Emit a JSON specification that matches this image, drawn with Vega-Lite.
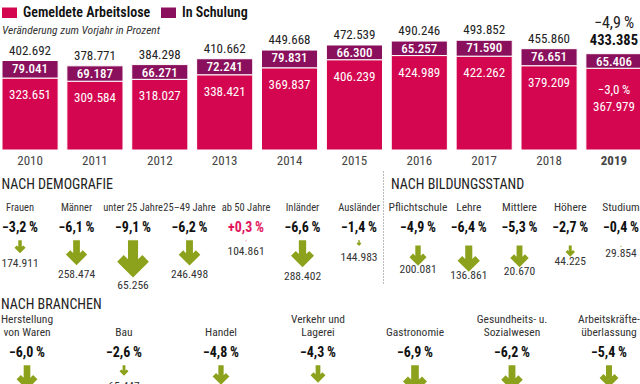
{
  "$schema": "https://vega.github.io/schema/vega-lite/v6.json",
  "padding": 0,
  "background": "white",
  "spacing": 3,
  "config": {
    "font": "Roboto Condensed, Noto Sans Condensed, Liberation Sans Narrow, DejaVu Sans Condensed, sans-serif",
    "view": {"stroke": null},
    "locale": {"number": {"decimal": ",", "thousands": ".", "grouping": [3], "currency": ["", " €"], "percent": "\u2009%", "minus": "\u2212"}}
  },
  "vconcat": [
    {
      "width": 640,
      "height": 150,
      "data": {"values": [
        {"Jahr": "2010", "Gemeldete Arbeitslose": 323651, "In Schulung": 79041, "Gesamt": 402692},
        {"Jahr": "2011", "Gemeldete Arbeitslose": 309584, "In Schulung": 69187, "Gesamt": 378771},
        {"Jahr": "2012", "Gemeldete Arbeitslose": 318027, "In Schulung": 66271, "Gesamt": 384298},
        {"Jahr": "2013", "Gemeldete Arbeitslose": 338421, "In Schulung": 72241, "Gesamt": 410662},
        {"Jahr": "2014", "Gemeldete Arbeitslose": 369837, "In Schulung": 79831, "Gesamt": 449668},
        {"Jahr": "2015", "Gemeldete Arbeitslose": 406239, "In Schulung": 66300, "Gesamt": 472539},
        {"Jahr": "2016", "Gemeldete Arbeitslose": 424989, "In Schulung": 65257, "Gesamt": 490246},
        {"Jahr": "2017", "Gemeldete Arbeitslose": 422262, "In Schulung": 71590, "Gesamt": 493852},
        {"Jahr": "2018", "Gemeldete Arbeitslose": 379209, "In Schulung": 76651, "Gesamt": 455860},
        {"Jahr": "2019", "Gemeldete Arbeitslose": 367979, "In Schulung": 65406, "Gesamt": 433385, "VeraenderungGesamt": -0.049, "VeraenderungArbeitslose": -0.030}
      ]},
      "encoding": {
        "x": {"field": "Jahr", "type": "ordinal",
          "scale": {"type": "band", "paddingInner": 0.135, "paddingOuter": 0},
          "axis": {"title": null, "domain": false, "ticks": false, "tickSize": 0, "labelPadding": 4, "labelFontSize": 13, "labelColor": "#444", "labelAngle": 0,
            "labelFontWeight": {"condition": {"test": "datum.value == '2019'", "value": "bold"}, "value": "normal"}}}
      },
      "layer": [
        {
          "transform": [{"fold": ["Gemeldete Arbeitslose", "In Schulung"], "as": ["Gruppe", "Anzahl"]}],
          "mark": {"type": "bar", "stroke": "white", "strokeWidth": 1},
          "encoding": {
            "y": {"field": "Anzahl", "type": "quantitative", "stack": "zero", "scale": {"domain": [0, 675000], "nice": false}, "axis": null},
            "order": {"field": "Gruppe", "sort": "ascending"},
            "color": {"field": "Gruppe", "type": "nominal",
              "scale": {"domain": ["Gemeldete Arbeitslose", "In Schulung"], "range": ["#d4064f", "#8a0f5c"]},
              "legend": {"orient": "none", "legendX": 0, "legendY": 5, "direction": "horizontal",
                "title": "Veränderung zum Vorjahr in Prozent", "titleOrient": "bottom", "titleAnchor": "start",
                "titleFontStyle": "italic", "titleFontWeight": "normal", "titleFontSize": 11.5, "titleColor": "#333", "titlePadding": 5, "titleLimit": 300,
                "symbolType": "M-1,-0.7L1,-0.7L1,0.7L-1,0.7Z", "symbolSize": 225, "symbolStrokeWidth": 0, "symbolOpacity": 1,
                "labelFontSize": 14, "labelFontWeight": 600, "labelColor": "#111", "labelOffset": 6, "labelLimit": 300, "columnPadding": 10, "padding": 0}}
          }
        },
        {
          "mark": {"type": "text", "color": "white", "fontSize": 13, "fontWeight": 500, "baseline": "middle", "dy": 8},
          "encoding": {
            "y": {"field": "Gesamt", "type": "quantitative", "scale": {"domain": [0, 675000], "nice": false}, "axis": null},
            "text": {"field": "In Schulung", "type": "quantitative", "format": ",.0f"}
          }
        },
        {
          "transform": [{"filter": "datum.Jahr != '2019'"}],
          "mark": {"type": "text", "color": "white", "fontSize": 13, "baseline": "middle", "dy": 17},
          "encoding": {
            "y": {"field": "Gemeldete Arbeitslose", "type": "quantitative", "scale": {"domain": [0, 675000], "nice": false}, "axis": null},
            "text": {"field": "Gemeldete Arbeitslose", "type": "quantitative", "format": ",.0f"}
          }
        },
        {
          "transform": [{"filter": "datum.Jahr == '2019'"}],
          "mark": {"type": "text", "color": "white", "fontSize": 13, "baseline": "middle", "dy": 39},
          "encoding": {
            "y": {"field": "Gemeldete Arbeitslose", "type": "quantitative", "scale": {"domain": [0, 675000], "nice": false}, "axis": null},
            "text": {"field": "Gemeldete Arbeitslose", "type": "quantitative", "format": ",.0f"}
          }
        },
        {
          "transform": [{"filter": "isValid(datum.VeraenderungArbeitslose)"}],
          "mark": {"type": "text", "color": "white", "fontSize": 13, "baseline": "middle", "dy": 22},
          "encoding": {
            "y": {"field": "Gemeldete Arbeitslose", "type": "quantitative", "scale": {"domain": [0, 675000], "nice": false}, "axis": null},
            "text": {"field": "VeraenderungArbeitslose", "type": "quantitative", "format": ".1%"}
          }
        },
        {
          "transform": [{"filter": "datum.Jahr != '2019'"}],
          "mark": {"type": "text", "color": "#222", "fontSize": 13, "baseline": "middle", "dy": -10},
          "encoding": {
            "y": {"field": "Gesamt", "type": "quantitative", "scale": {"domain": [0, 675000], "nice": false}, "axis": null},
            "text": {"field": "Gesamt", "type": "quantitative", "format": ",.0f"}
          }
        },
        {
          "transform": [{"filter": "datum.Jahr == '2019'"}],
          "mark": {"type": "text", "color": "#111", "fontSize": 14.5, "fontWeight": "bold", "baseline": "middle", "dy": -13},
          "encoding": {
            "y": {"field": "Gesamt", "type": "quantitative", "scale": {"domain": [0, 675000], "nice": false}, "axis": null},
            "text": {"field": "Gesamt", "type": "quantitative", "format": ",.0f"}
          }
        },
        {
          "transform": [{"filter": "isValid(datum.VeraenderungGesamt)"}],
          "mark": {"type": "text", "color": "#222", "fontSize": 16, "baseline": "middle", "dy": -31},
          "encoding": {
            "y": {"field": "Gesamt", "type": "quantitative", "scale": {"domain": [0, 675000], "nice": false}, "axis": null},
            "text": {"field": "VeraenderungGesamt", "type": "quantitative", "format": ".1%"}
          }
        }
      ]
    },
    {
      "spacing": 0,
      "hconcat": [
        {
          "width": 381,
          "height": 122,
          "title": {"text": "NACH DEMOGRAFIE", "anchor": "start", "offset": -22, "fontSize": 14, "fontWeight": "normal", "color": "#222"},
          "data": {"values": [
            {"Gruppe": "Frauen", "Veraenderung": -0.032, "Arbeitslose": 174911},
            {"Gruppe": "Männer", "Veraenderung": -0.061, "Arbeitslose": 258474},
            {"Gruppe": "unter 25 Jahre", "Veraenderung": -0.091, "Arbeitslose": 65256},
            {"Gruppe": "25–49 Jahre", "Veraenderung": -0.062, "Arbeitslose": 246498},
            {"Gruppe": "ab 50 Jahre", "Veraenderung": 0.003, "Arbeitslose": 104861},
            {"Gruppe": "Inländer", "Veraenderung": -0.066, "Arbeitslose": 288402},
            {"Gruppe": "Ausländer", "Veraenderung": -0.014, "Arbeitslose": 144983}
          ]},
          "encoding": {
            "x": {"field": "Gruppe", "type": "nominal", "sort": null,
              "scale": {"type": "point", "padding": 0.372, "align": 0.429, "domain": ["Frauen", "Männer", "unter 25 Jahre", "25–49 Jahre", "ab 50 Jahre", "Inländer", "Ausländer"]},
              "axis": null}
          },
          "layer": [
            {
              "mark": {"type": "text", "baseline": "bottom", "fontSize": 10.5, "color": "#333"},
              "encoding": {
                "y": {"datum": 0.11, "type": "quantitative", "scale": {"domain": [-0.109, 0.23], "nice": false, "zero": false}, "axis": null},
                "text": {"field": "Gruppe", "type": "nominal"}
              }
            },
            {
              "mark": {"type": "text", "baseline": "middle", "fontSize": 14, "fontWeight": "bold"},
              "encoding": {
                "y": {"datum": 0.07, "type": "quantitative", "scale": {"domain": [-0.109, 0.23], "nice": false, "zero": false}, "axis": null},
                "text": {"field": "Veraenderung", "type": "quantitative", "format": "+.1%"},
                "color": {"condition": {"test": "datum.Veraenderung > 0", "value": "#e3155d"}, "value": "#111"}
              }
            },
            {
              "transform": [{"filter": "datum.Veraenderung < 0"}],
              "mark": {"type": "point", "shape": "M-0.27,0L0.27,0L0.27,1.02L0.5,0.8L0.85,1.15L0,2L-0.85,1.15L-0.5,0.8L-0.27,1.02Z", "filled": true, "color": "#8da21c", "opacity": 1, "strokeWidth": 0},
              "encoding": {
                "y": {"datum": 0.035, "type": "quantitative", "scale": {"domain": [-0.109, 0.23], "nice": false, "zero": false}, "axis": null},
                "size": {"field": "Veraenderung", "type": "quantitative", "scale": {"type": "pow", "exponent": 2, "domain": [-0.1, 0, 0.1], "range": [1681, 0, 1681]}, "legend": null}
              }
            },
            {
              "transform": [{"filter": "datum.Veraenderung > 0"}],
              "mark": {"type": "point", "shape": "M-0.27,2L0.27,2L0.27,0.98L0.5,1.2L0.85,0.85L0,0L-0.85,0.85L-0.5,1.2L-0.27,0.98Z", "filled": true, "color": "#e3155d", "opacity": 1, "strokeWidth": 0},
              "encoding": {
                "y": {"datum": 0.035, "type": "quantitative", "scale": {"domain": [-0.109, 0.23], "nice": false, "zero": false}, "axis": null},
                "size": {"field": "Veraenderung", "type": "quantitative", "scale": {"type": "pow", "exponent": 2, "domain": [-0.1, 0, 0.1], "range": [1681, 0, 1681]}, "legend": null}
              }
            },
            {
              "mark": {"type": "text", "baseline": "middle", "fontSize": 11.5, "color": "#333"},
              "encoding": {
                "y": {"field": "Veraenderung", "type": "quantitative", "scale": {"domain": [-0.109, 0.23], "nice": false, "zero": false}, "axis": null},
                "text": {"field": "Arbeitslose", "type": "quantitative", "format": ",.0f"}
              }
            }
          ]
        },
        {
          "width": 259,
          "height": 113,
          "title": {"text": "NACH BILDUNGSSTAND", "anchor": "start", "offset": -22, "dx": 8, "fontSize": 14, "fontWeight": "normal", "color": "#222"},
          "data": {"values": [
            {"Stufe": "Pflichtschule", "Veraenderung": -0.049, "Arbeitslose": 200081},
            {"Stufe": "Lehre", "Veraenderung": -0.064, "Arbeitslose": 136861},
            {"Stufe": "Mittlere", "Veraenderung": -0.053, "Arbeitslose": 20670},
            {"Stufe": "Höhere", "Veraenderung": -0.027, "Arbeitslose": 44225},
            {"Stufe": "Studium", "Veraenderung": -0.004, "Arbeitslose": 29854}
          ]},
          "encoding": {
            "x": {"field": "Stufe", "type": "nominal", "sort": null,
              "scale": {"type": "point", "padding": 0.552, "align": 0.625, "domain": ["Pflichtschule", "Lehre", "Mittlere", "Höhere", "Studium"]},
              "axis": null}
          },
          "layer": [
            {
              "mark": {"type": "text", "baseline": "bottom", "fontSize": 11.5, "color": "#333"},
              "encoding": {
                "y": {"datum": 0.11, "type": "quantitative", "scale": {"domain": [-0.084, 0.23], "nice": false, "zero": false},
                  "axis": {"title": null, "labels": false, "ticks": false, "grid": false, "domain": true, "domainDash": [1, 2], "domainColor": "#777", "domainWidth": 1}},
                "text": {"field": "Stufe", "type": "nominal"}
              }
            },
            {
              "mark": {"type": "text", "baseline": "middle", "fontSize": 14, "fontWeight": "bold"},
              "encoding": {
                "y": {"datum": 0.07, "type": "quantitative", "scale": {"domain": [-0.084, 0.23], "nice": false, "zero": false},
                  "axis": {"title": null, "labels": false, "ticks": false, "grid": false, "domain": true, "domainDash": [1, 2], "domainColor": "#777", "domainWidth": 1}},
                "text": {"field": "Veraenderung", "type": "quantitative", "format": "+.1%"},
                "color": {"condition": {"test": "datum.Veraenderung > 0", "value": "#e3155d"}, "value": "#111"}
              }
            },
            {
              "transform": [{"filter": "datum.Veraenderung < 0"}],
              "mark": {"type": "point", "shape": "M-0.27,0L0.27,0L0.27,1.02L0.5,0.8L0.85,1.15L0,2L-0.85,1.15L-0.5,0.8L-0.27,1.02Z", "filled": true, "color": "#8da21c", "opacity": 1, "strokeWidth": 0},
              "encoding": {
                "y": {"datum": 0.02, "type": "quantitative", "scale": {"domain": [-0.084, 0.23], "nice": false, "zero": false},
                  "axis": {"title": null, "labels": false, "ticks": false, "grid": false, "domain": true, "domainDash": [1, 2], "domainColor": "#777", "domainWidth": 1}},
                "size": {"field": "Veraenderung", "type": "quantitative", "scale": {"type": "pow", "exponent": 2, "domain": [-0.1, 0, 0.1], "range": [961, 0, 961]}, "legend": null}
              }
            },
            {
              "mark": {"type": "text", "baseline": "middle", "fontSize": 11.5, "color": "#333"},
              "encoding": {
                "y": {"field": "Veraenderung", "type": "quantitative", "scale": {"domain": [-0.084, 0.23], "nice": false, "zero": false},
                  "axis": {"title": null, "labels": false, "ticks": false, "grid": false, "domain": true, "domainDash": [1, 2], "domainColor": "#777", "domainWidth": 1}},
                "text": {"field": "Arbeitslose", "type": "quantitative", "format": ",.0f"}
              }
            }
          ]
        }
      ]
    },
    {
      "width": 640,
      "height": 122,
      "title": {"text": "NACH BRANCHEN", "anchor": "start", "offset": -17, "fontSize": 14, "fontWeight": "normal", "color": "#222"},
      "data": {"values": [
        {"Branche": "Herstellung von Waren", "Zeile1": "Herstellung", "Zeile2": "von Waren", "Veraenderung": -0.060},
        {"Branche": "Bau", "Zeile1": "", "Zeile2": "Bau", "Veraenderung": -0.026, "Arbeitslose": 65447},
        {"Branche": "Handel", "Zeile1": "", "Zeile2": "Handel", "Veraenderung": -0.048},
        {"Branche": "Verkehr und Lagerei", "Zeile1": "Verkehr und", "Zeile2": "Lagerei", "Veraenderung": -0.043},
        {"Branche": "Gastronomie", "Zeile1": "", "Zeile2": "Gastronomie", "Veraenderung": -0.069},
        {"Branche": "Gesundheits- u. Sozialwesen", "Zeile1": "Gesundheits- u.", "Zeile2": "Sozialwesen", "Veraenderung": -0.062},
        {"Branche": "Arbeitskräfteüberlassung", "Zeile1": "Arbeitskräfte-", "Zeile2": "überlassung", "Veraenderung": -0.054}
      ]},
      "encoding": {
        "x": {"field": "Branche", "type": "nominal", "sort": null,
          "scale": {"type": "point", "padding": 0.299, "align": 0.431, "domain": ["Herstellung von Waren", "Bau", "Handel", "Verkehr und Lagerei", "Gastronomie", "Gesundheits- u. Sozialwesen", "Arbeitskräfteüberlassung"]},
          "axis": null}
      },
      "layer": [
        {
          "mark": {"type": "text", "baseline": "bottom", "fontSize": 11.5, "color": "#333", "dy": -13.5},
          "encoding": {
            "y": {"datum": 0.11, "type": "quantitative", "scale": {"domain": [-0.109, 0.23], "nice": false, "zero": false}, "axis": null},
            "text": {"field": "Zeile1", "type": "nominal"}
          }
        },
        {
          "mark": {"type": "text", "baseline": "bottom", "fontSize": 11.5, "color": "#333"},
          "encoding": {
            "y": {"datum": 0.11, "type": "quantitative", "scale": {"domain": [-0.109, 0.23], "nice": false, "zero": false}, "axis": null},
            "text": {"field": "Zeile2", "type": "nominal"}
          }
        },
        {
          "mark": {"type": "text", "baseline": "middle", "fontSize": 14, "fontWeight": "bold", "color": "#111"},
          "encoding": {
            "y": {"datum": 0.07, "type": "quantitative", "scale": {"domain": [-0.109, 0.23], "nice": false, "zero": false}, "axis": null},
            "text": {"field": "Veraenderung", "type": "quantitative", "format": "+.1%"}
          }
        },
        {
          "transform": [{"filter": "datum.Veraenderung < 0"}],
          "mark": {"type": "point", "shape": "M-0.27,0L0.27,0L0.27,1.02L0.5,0.8L0.85,1.15L0,2L-0.85,1.15L-0.5,0.8L-0.27,1.02Z", "filled": true, "color": "#8da21c", "opacity": 1, "strokeWidth": 0},
          "encoding": {
            "y": {"datum": 0.035, "type": "quantitative", "scale": {"domain": [-0.109, 0.23], "nice": false, "zero": false}, "axis": null},
            "size": {"field": "Veraenderung", "type": "quantitative", "scale": {"type": "pow", "exponent": 2, "domain": [-0.1, 0, 0.1], "range": [1681, 0, 1681]}, "legend": null}
          }
        },
        {
          "transform": [{"filter": "isValid(datum.Arbeitslose)"}],
          "mark": {"type": "text", "baseline": "middle", "fontSize": 11.5, "color": "#333"},
          "encoding": {
            "y": {"field": "Veraenderung", "type": "quantitative", "scale": {"domain": [-0.109, 0.23], "nice": false, "zero": false}, "axis": null},
            "text": {"field": "Arbeitslose", "type": "quantitative", "format": ",.0f"}
          }
        }
      ]
    }
  ]
}
